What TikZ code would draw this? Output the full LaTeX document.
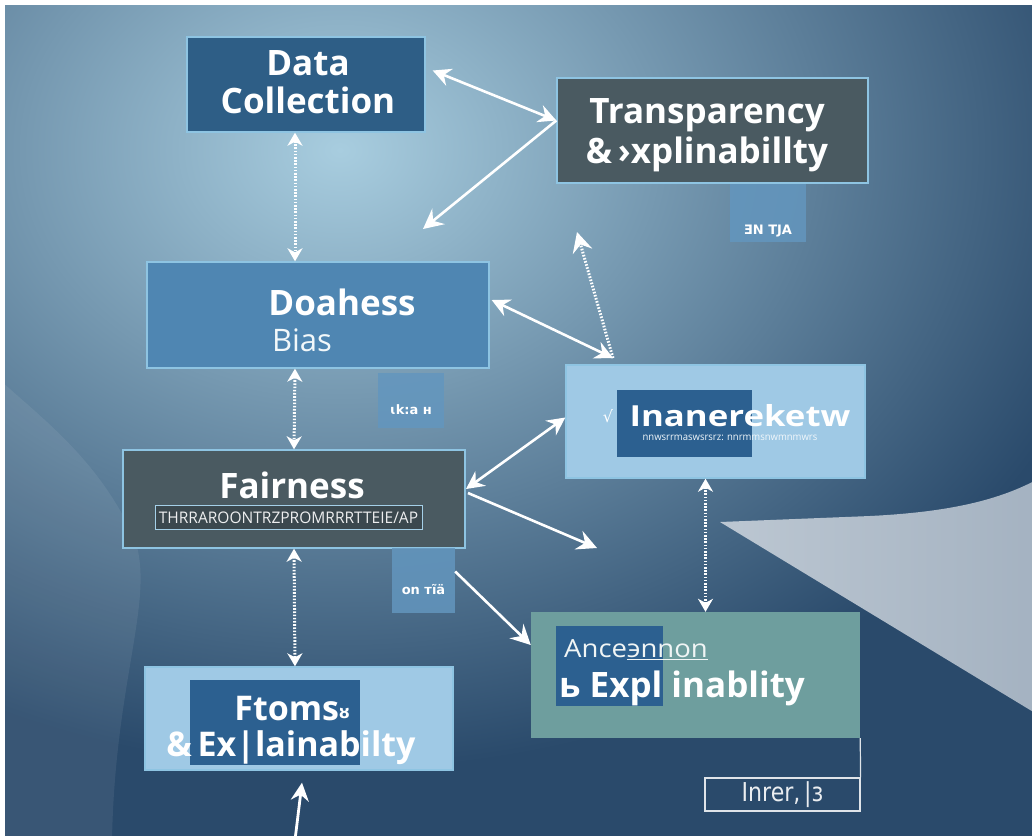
\documentclass[tikz,border=0pt]{standalone}
\usepackage{fontspec}
\usepackage{graphicx}
\setmainfont{Open Sans}
\newfontfamily\dejavu{DejaVu Sans}
\usetikzlibrary{arrows.meta}
\definecolor{bgLight}{HTML}{A8CDDF}
\definecolor{bgDark}{HTML}{2A4A6B}
\definecolor{navybox}{HTML}{2E5E86}
\definecolor{slatebox}{HTML}{4A5A61}
\definecolor{midbox}{HTML}{4F86B2}
\definecolor{palebox}{HTML}{9FC9E5}
\definecolor{greenbox}{HTML}{6E9E9E}
\definecolor{innerbox}{HTML}{2C6090}
\definecolor{tagbox}{HTML}{6396BE}
\definecolor{rimcol}{HTML}{8EC4E2}
\definecolor{wedgeA}{HTML}{BCC7D2}
\definecolor{wedgeB}{HTML}{A4B2C1}
\tikzset{
  box/.style={draw=rimcol, line width=1.4pt, inner sep=0pt},
  inbox/.style={fill=innerbox, draw=none, inner sep=0pt},
  tagnode/.style={fill=tagbox, draw=none, inner sep=0pt, fill opacity=0.85},
  bigtxt/.style={text=white, align=center, font=\bfseries\fontsize{35}{38}\selectfont},
  tagtxt/.style={text=white, font=\dejavu\bfseries\fontsize{13}{13}\selectfont},
  arrboth/.style={draw=white, line width=2.6pt,
    {Stealth[length=18pt,width=18pt,inset=6pt]}-{Stealth[length=18pt,width=18pt,inset=6pt]}},
  arrone/.style={draw=white, line width=2.6pt,
    -{Stealth[length=20pt,width=20pt,inset=7pt]}},
  dotboth/.style={draw=white, line width=3pt, dash pattern=on 1.6pt off 1.6pt,
    {Stealth[length=13pt,width=15pt,inset=4pt]}-{Stealth[length=13pt,width=15pt,inset=4pt]}},
  dotone/.style={draw=white, line width=3pt, dash pattern=on 1.6pt off 1.6pt,
    -{Stealth[length=20pt,width=20pt,inset=7pt]}}
}
\begin{document}
\begin{tikzpicture}[x=1pt,y=-1pt]
\useasboundingbox (0,0) rectangle (1032,836);
% background
\fill[white] (0,0) rectangle (1032,836);
\begin{scope}
  \clip (5,5) rectangle (1032,836);
  \fill[bgDark] (5,5) rectangle (1032,836);
  \shade[inner color=bgLight, outer color=bgDark] (340,150) ellipse (800 and 620);
  \fill[white, opacity=0.07] (0,380) .. controls (40,417) and (100,460) .. (135,540)
     .. controls (155,600) and (115,680) .. (112,840) -- (0,840) -- cycle;
  \shade[left color=wedgeA, right color=wedgeB]
    (720,522) -- (870,516) .. controls (950,512) and (1000,500) .. (1040,478) -- (1040,716) -- cycle;
\end{scope}

% main boxes
\node[box, fill=navybox, minimum width=238pt, minimum height=95pt] (dc) at (306,84.5) {};
\node[bigtxt] (dct) at (308,82) {Data\\Collection};

\node[box, fill=slatebox, minimum width=311pt, minimum height=105pt] (tr) at (712.5,130.5) {};
\node[bigtxt, font=\bfseries\fontsize{35}{40}\selectfont] (trt) at (707,135) {Transparency\\\&\,›xplinabillty};
\node[tagnode, minimum width=76pt, minimum height=58pt] (sb1) at (768,213) {};
\node[tagtxt] (sb1t) at (768,231) {ƎN TJA};

\node[box, fill=midbox, minimum width=342pt, minimum height=106pt] (doa) at (318,315) {};
\node[bigtxt] (doat) at (342,302) {Doahess};
\node[text=white!85!bgLight, font=\fontsize{31}{31}\selectfont] (biast) at (302,340) {Bias};
\node[tagnode, minimum width=66pt, minimum height=55pt] (sb2) at (411,400.5) {};
\node[tagtxt] (sb2t) at (411,410) {ɩk:a ʜ};

\node[box, fill=palebox, minimum width=299pt, minimum height=113pt] (rb) at (715.5,421.5) {};
\node[inbox, minimum width=135pt, minimum height=67pt] (rbi) at (684.5,423.5) {};
\node[text=white, font=\bfseries\fontsize{29}{29}\selectfont] (rbt) at (740,416) {\scalebox{1.2}[1]{Inanereketw}};
\node[text=white!85!palebox, font=\fontsize{10}{10}\selectfont] (rbs) at (730,438) {\scalebox{0.95}[1]{nnwsrrmaswsrsrz: nnrmmsnwmnmwrs}};
\node[text=white, font=\dejavu\fontsize{16}{16}\selectfont] (rbc) at (608,416) {√};

\node[box, fill=slatebox, minimum width=342pt, minimum height=98pt] (fa) at (294,499) {};
\node[bigtxt] (fat) at (292,485) {Fairness};
\node[draw=rimcol!80!white, line width=0.8pt, fill=slatebox!80!black, minimum width=267pt, minimum height=24pt, inner sep=0pt] (fab) at (288.5,517.5) {};
\node[text=white!90!slatebox, font=\fontsize{16}{16}\selectfont] (fabt) at (288.5,518) {\scalebox{0.97}[1]{THRRAROONTRZPROMRRRTTEIE/AP}};
\node[tagnode, minimum width=63pt, minimum height=65pt] (sb3) at (423.5,580.5) {};
\node[tagtxt] (sb3t) at (423.5,590) {on тĩä};

\node[box, fill=palebox, minimum width=308pt, minimum height=103pt] (fh) at (299,718.5) {};
\node[inbox, minimum width=170pt, minimum height=85pt] (fhi) at (275,722.5) {};
\node[text=white, font=\bfseries\fontsize{34}{34}\selectfont] (fht1) at (292,709) {Ftoms\raisebox{2pt}{\dejavu\fontsize{16}{16}\selectfont ȣ}};
\node[text=white, font=\bfseries\fontsize{34}{34}\selectfont] (fht2) at (291,748) {\&\,Ex|lainabilty};

\node[draw=none, fill=greenbox, minimum width=329pt, minimum height=126pt, inner sep=0pt] (gb) at (695.5,675) {};
\node[inbox, minimum width=107pt, minimum height=80pt] (gbi) at (609.5,666) {};
\node[text=white!90!greenbox, font=\fontsize{25}{25}\selectfont] (gbt1) at (636,650) {\scalebox{1.1}[1]{Ance\underline{эnnon}}};
\node[text=white, font=\bfseries\fontsize{35}{35}\selectfont] (gbt2) at (682,688) {ь Expl inablity};

\node[draw=white!85!bgDark, line width=1.2pt, minimum width=155pt, minimum height=33pt, inner sep=0pt] (inr) at (782.5,794.5) {};
\node[text=white!90!bgDark, font=\dejavu\fontsize{26}{26}\selectfont] (inrt) at (782.5,795) {\scalebox{0.85}[1]{Inrer,\,|ɜ}};
\draw[white!85!bgDark, line width=1.2pt] (gb.south east) -- (inr.north east);

% free ends
\coordinate (c1) at (423,229);
\coordinate (v2) at (613,358);
\coordinate (c2) at (577,232);
\coordinate (c3) at (597,548);
\coordinate (bot) at (295,840);
\coordinate (fr1) at (466,489);
\coordinate (fr2) at (468,493);

% connectors
\draw[dotboth] ([xshift=-11pt]dc.south) -- ([xshift=-23pt]doa.north);
\draw[dotboth] ([xshift=-23pt]doa.south) -- (fa.north);
\draw[dotboth] (fa.south) -- ([xshift=-4pt]fh.north);
\draw[draw=white, line width=2.8pt, -{Stealth[length=18pt,width=18pt,inset=6pt]}] (bot) -- ([xshift=3pt,yshift=-12pt]fh.south);

\draw[arrboth] ([xshift=7pt,yshift=14pt]dc.east) -- ([yshift=10pt]tr.west);
\draw[arrone] ([yshift=10pt]tr.west) -- (c1);
\draw[arrboth] ([xshift=2pt,yshift=15pt]doa.east) -- (v2);
\draw[dotone] (v2) -- (c2);
\draw[arrboth] (fr1) -- ([yshift=4pt]rb.west);
\draw[arrone] (fr2) -- (c3);
\draw[arrone] ([yshift=9pt]sb3.east) -- ([yshift=30pt]gb.west);
\draw[dotboth] ([xshift=-10pt]rb.south) -- ([xshift=10pt]gb.north);
\end{tikzpicture}
\end{document}
